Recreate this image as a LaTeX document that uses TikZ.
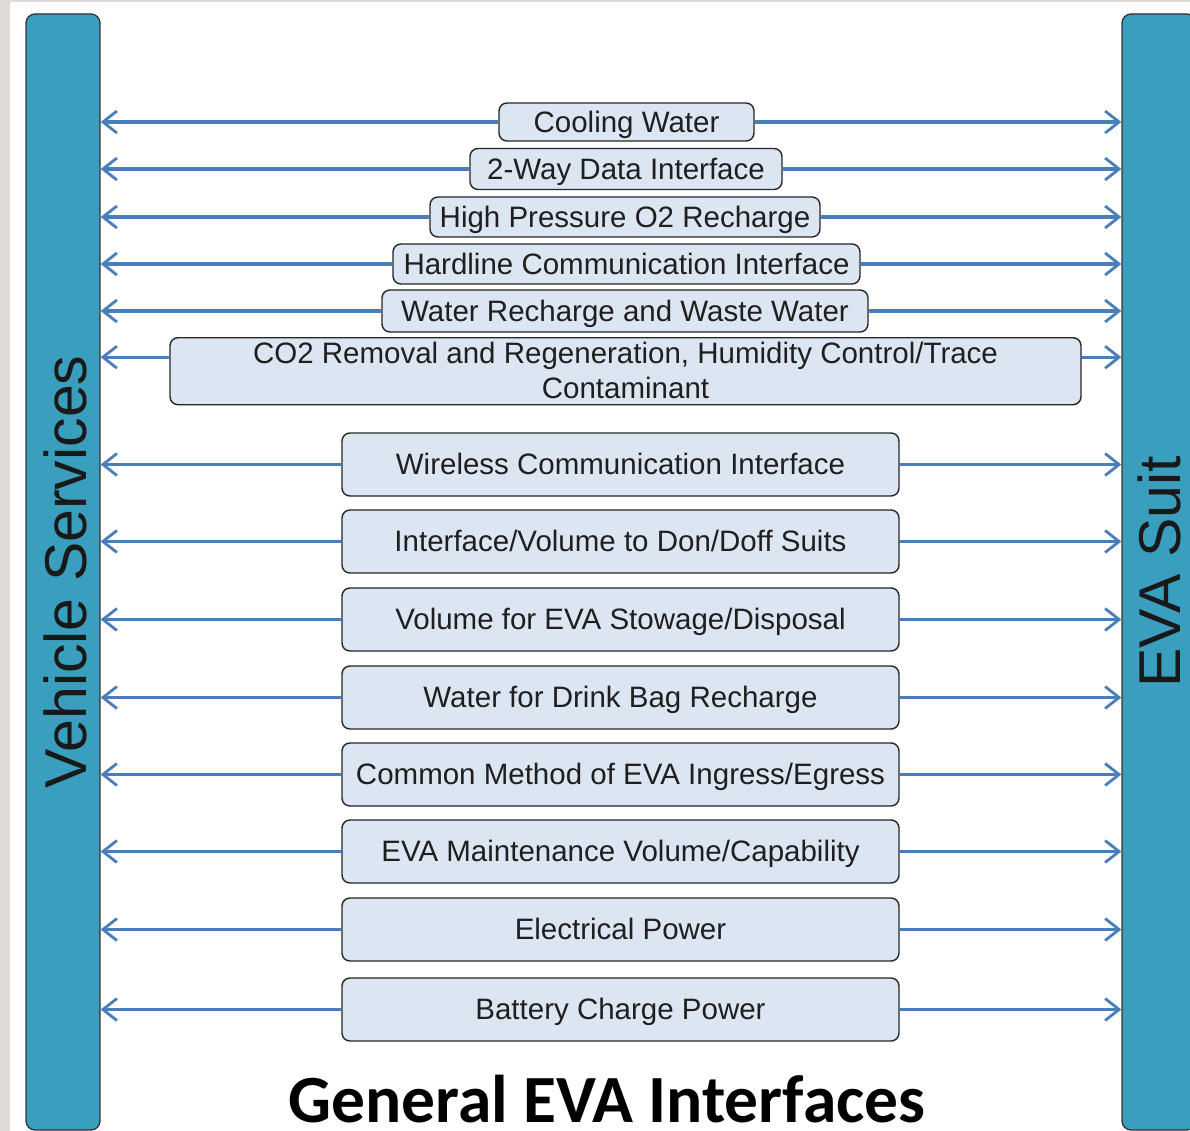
\documentclass[tikz,border=0pt]{standalone}
\usepackage{fontspec}
\setmainfont{Liberation Sans}
\newfontfamily\titlefont{Carlito}
\usetikzlibrary{arrows.meta}
\definecolor{barteal}{HTML}{3A9FBE}
\definecolor{boxfill}{HTML}{DCE6F2}
\definecolor{arrblue}{HTML}{4A7EBB}
\definecolor{bggray}{HTML}{DEDBD6}
\begin{document}
\begin{tikzpicture}[x=1pt,y=-1pt,
  bar/.style={draw=black!80, line width=1.3pt, fill=barteal, rounded corners=9pt, minimum width=74pt, minimum height=1116pt, inner sep=0pt},
  ibox/.style={draw=black!85, line width=1.4pt, fill=boxfill, rounded corners=8pt, inner sep=0pt, font=\fontsize{29.5}{35}\selectfont, text=black!88, align=center, text depth=1pt},
  link/.style={draw=arrblue, line width=3.1pt, -{Straight Barb[length=14pt,width=22pt,line width=2.8pt]}},
  barlabel/.style={rotate=90, font=\fontsize{59}{60}\selectfont, text=black!90, inner sep=0pt}
]
\useasboundingbox (0,0) rectangle (1190,1131);
\fill[bggray] (0,0) rectangle (1190,1131);
\fill[white] (10,2) rectangle (1190,1131);

% side bars
\node[bar] (vs) at (63,572) {};
\node[bar] (es) at (1159,572) {};
\node[barlabel] (vslabel) at (65,572) {Vehicle Services};
\node[barlabel] (eslabel) at (1159,572) {EVA Suit};

% interface boxes
\node[ibox, minimum width=255pt, minimum height=38pt] (b1) at (626.5,122) {Cooling Water};
\node[ibox, minimum width=312pt, minimum height=41pt] (b2) at (626,169) {2-Way Data Interface};
\node[ibox, minimum width=390pt, minimum height=40pt] (b3) at (625,217) {High Pressure O2 Recharge};
\node[ibox, minimum width=467pt, minimum height=40pt] (b4) at (626.5,264) {Hardline Communication Interface};
\node[ibox, minimum width=486pt, minimum height=42pt] (b5) at (625,311) {Water Recharge and Waste Water};
\node[ibox, minimum width=911pt, minimum height=67pt, anchor=north] (b6) at (625.5,337) {CO2 Removal and Regeneration, Humidity Control/Trace\\Contaminant};
\node[ibox, minimum width=557pt, minimum height=63pt] (b7) at (620.5,464.5) {Wireless Communication Interface};
\node[ibox, minimum width=557pt, minimum height=63pt] (b8) at (620.5,541.5) {Interface/Volume to Don/Doff Suits};
\node[ibox, minimum width=557pt, minimum height=63pt] (b9) at (620.5,619.5) {Volume for EVA Stowage/Disposal};
\node[ibox, minimum width=557pt, minimum height=63pt] (b10) at (620.5,697.5) {Water for Drink Bag Recharge};
\node[ibox, minimum width=557pt, minimum height=63pt] (b11) at (620.5,774.5) {Common Method of EVA Ingress/Egress};
\node[ibox, minimum width=557pt, minimum height=63pt] (b12) at (620.5,851.5) {EVA Maintenance Volume/Capability};
\node[ibox, minimum width=557pt, minimum height=63pt] (b13) at (620.5,929.5) {Electrical Power};
\node[ibox, minimum width=557pt, minimum height=63pt] (b14) at (620.5,1009.5) {Battery Charge Power};

% connectors
\foreach \b in {b1,b2,b3,b4,b5,b7,b8,b9,b10,b11,b12,b13,b14}{
  \draw[link] (\b.west) -- (\b.west -| vs.east);
  \draw[link] (\b.east) -- (\b.east -| es.west);
}
\coordinate (b6l) at ([yshift=14pt]b6.west);
\coordinate (b6r) at ([yshift=14pt]b6.east);
\draw[link] (b6l) -- (b6l -| vs.east);
\draw[link] (b6r) -- (b6r -| es.west);

% title
\node[anchor=base, font=\titlefont\bfseries\fontsize{67.5}{70}\selectfont, inner sep=0pt] (title) at (607,1122) {General EVA Interfaces};
\end{tikzpicture}
\end{document}
